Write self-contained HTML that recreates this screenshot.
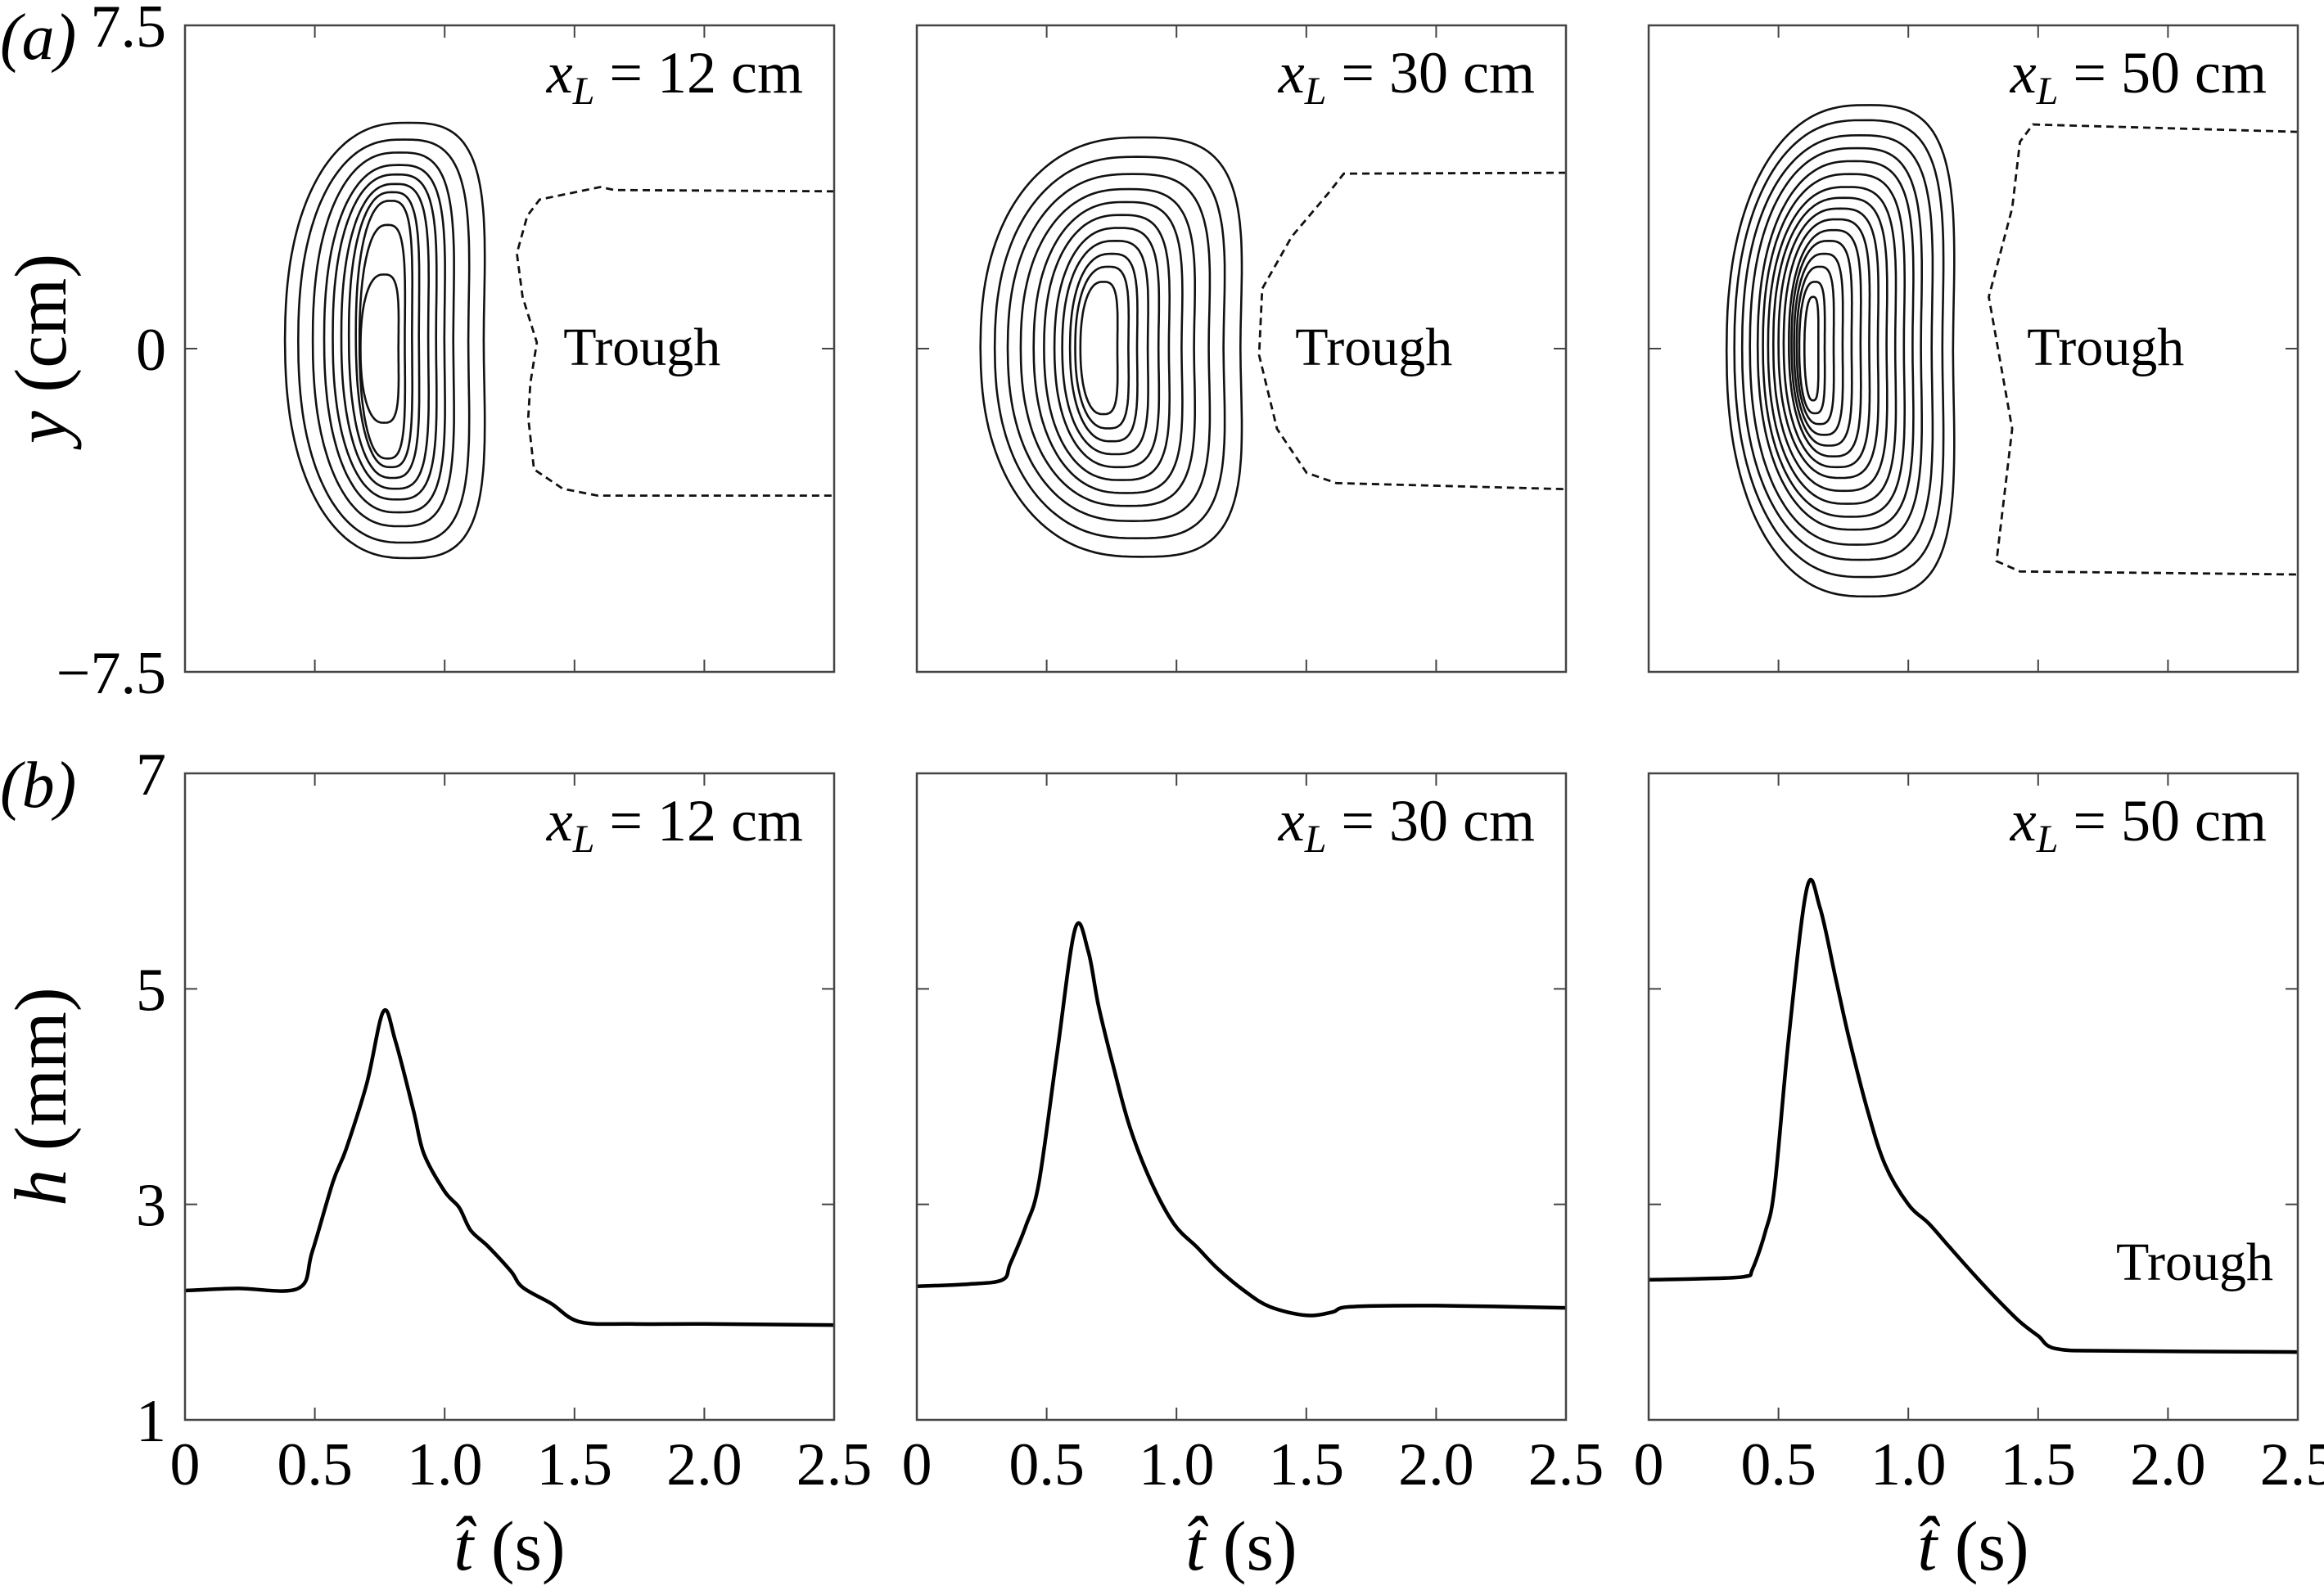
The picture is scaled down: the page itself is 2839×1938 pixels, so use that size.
<!DOCTYPE html>
<html><head><meta charset="utf-8">
<style>
html,body{margin:0;padding:0;background:#fff;}
svg{display:block;font-family:"Liberation Serif",serif;}
</style></head>
<body>
<svg id="fig" width="2839" height="1938" viewBox="0 0 2839 1938" xmlns="http://www.w3.org/2000/svg">
<rect width="2839" height="1938" fill="#fff"/>
<text x="0" y="72" font-size="80" font-style="italic">(a)</text>
<text x="0" y="986" font-size="80" font-style="italic">(b)</text>
<text transform="translate(80,426) rotate(-90)" text-anchor="middle" font-size="90"><tspan font-style="italic">y</tspan> (cm)</text>
<text transform="translate(80,1340) rotate(-90)" text-anchor="middle" font-size="90"><tspan font-style="italic">h</tspan> (mm)</text>
<g id="root"></g>
</svg>
<script>
const NS="http://www.w3.org/2000/svg";
const xLvals=["12","30","50"];
const xTicks=[0,0.5,1.0,1.5,2.0,2.5];
const xTickLabels=["0","0.5","1.0","1.5","2.0","2.5"];
const yTicksTop=[7.5,0,-7.5];
const yTickLabelsTop=["7.5","0","\u22127.5"];
const yTicksBot=[1,3,5,7];
const yTickLabelsBot=["1","3","5","7"];

// h(t) series
const t1=[0,0.2,0.436,0.49,0.57,0.62,0.70,0.764,0.81,0.88,0.92,1.0,1.056,1.10,1.167,1.255,1.30,1.41,1.52,1.72,2.0,2.5];
const h1=[2.2,2.22,2.22,2.56,3.21,3.51,4.12,4.79,4.52,3.87,3.47,3.12,2.97,2.76,2.61,2.38,2.23,2.08,1.91,1.89,1.89,1.88];
const t2=[0,0.2,0.33,0.36,0.42,0.47,0.54,0.61,0.66,0.70,0.76,0.82,0.90,0.99,1.08,1.16,1.26,1.36,1.5,1.6,1.67,2.0,2.5];
const h2=[2.24,2.26,2.3,2.45,2.8,3.2,4.4,5.56,5.35,4.84,4.25,3.72,3.22,2.82,2.6,2.4,2.2,2.05,1.97,2.0,2.05,2.06,2.04];
const t3=[0,0.2,0.37,0.40,0.45,0.485,0.54,0.61,0.66,0.72,0.77,0.84,0.91,1.0,1.08,1.16,1.26,1.35,1.43,1.5,1.57,1.8,2.5];
const h3=[2.3,2.31,2.33,2.4,2.75,3.16,4.56,5.94,5.75,5.1,4.56,3.9,3.37,3.0,2.82,2.6,2.33,2.1,1.91,1.78,1.66,1.64,1.63];
const tS=[t1,t2,t3], hS=[h1,h2,h3];

// contour bounds (t left, t right, y top, y bottom)
const cL1=[0.385,0.436,0.492,0.536,0.569,0.602,0.631,0.658,0.672,0.676];
const cR1=[1.245,1.172,1.10,1.056,1.016,0.978,0.934,0.901,0.868,0.84];
const cT1=[5.24,4.85,4.55,4.26,4.04,3.82,3.63,3.43,2.87,1.72];
const cB1=[-4.86,-4.5,-4.12,-3.8,-3.5,-3.25,-3.0,-2.75,-2.55,-1.72];
const cL2=[0.245,0.30,0.35,0.40,0.45,0.49,0.53,0.56,0.59,0.61,0.63];
const cR2=[1.37,1.29,1.22,1.15,1.09,1.03,0.98,0.93,0.88,0.84,0.79];
const cT2=[4.9,4.45,4.05,3.7,3.4,3.1,2.8,2.5,2.2,1.9,1.55];
const cB2=[-4.83,-4.4,-4.0,-3.65,-3.35,-3.05,-2.75,-2.45,-2.15,-1.85,-1.52];
const cL3=[0.30,0.33,0.36,0.39,0.42,0.44,0.46,0.48,0.50,0.52,0.54,0.55,0.56,0.57,0.58,0.60];
const cR3=[1.28,1.23,1.18,1.13,1.09,1.05,1.01,0.97,0.93,0.89,0.85,0.81,0.77,0.73,0.69,0.66];
const cT3=[5.65,5.3,4.95,4.65,4.35,4.05,3.75,3.5,3.25,3.0,2.75,2.5,2.2,1.9,1.55,1.2];
const cB3=[-5.75,-5.3,-4.9,-4.55,-4.2,-3.9,-3.6,-3.3,-3.0,-2.75,-2.5,-2.25,-2.0,-1.75,-1.5,-1.2];
const cLs=[cL1,cL2,cL3], cRs=[cR1,cR2,cR3], cTs=[cT1,cT2,cT3], cBs=[cB1,cB2,cB3];

// dashed trough boundaries
const dT1=[2.5,1.654,1.60,1.366,1.318,1.278,1.30,1.355,1.33,1.322,1.344,1.455,1.59,2.5];
const dY1=[3.65,3.68,3.75,3.46,3.08,2.21,1.2,0.14,-0.8,-1.6,-2.8,-3.25,-3.41,-3.41];
const dT2=[2.5,1.644,1.587,1.444,1.330,1.318,1.387,1.501,1.615,2.5];
const dY2=[4.08,4.06,3.62,2.6,1.39,-0.15,-1.86,-2.88,-3.12,-3.26];
const dT3=[2.5,1.48,1.43,1.40,1.31,1.40,1.34,1.43,2.5];
const dY3=[5.03,5.2,4.8,3.26,1.2,-1.86,-4.93,-5.17,-5.24];
const dTs=[dT1,dT2,dT3], dYs=[dY1,dY2,dY3];

const PX=[226,1120,2014], PW=793, TOP1=31, TOP2=945, PH=790;
const root=document.getElementById('root');
function mk(tag,attrs,parent){const e=document.createElementNS(NS,tag);for(const k in attrs)e.setAttribute(k,attrs[k]);(parent||root).appendChild(e);return e;}
function smooth(pts){
  let d='M'+pts[0][0].toFixed(1)+' '+pts[0][1].toFixed(1);
  for(let i=0;i<pts.length-1;i++){
    const p0=pts[Math.max(0,i-1)],p1=pts[i],p2=pts[i+1],p3=pts[Math.min(pts.length-1,i+2)];
    const c1=[p1[0]+(p2[0]-p0[0])/6,p1[1]+(p2[1]-p0[1])/6];
    const c2=[p2[0]-(p3[0]-p1[0])/6,p2[1]-(p3[1]-p1[1])/6];
    d+='C'+c1[0].toFixed(1)+' '+c1[1].toFixed(1)+' '+c2[0].toFixed(1)+' '+c2[1].toFixed(1)+' '+p2[0].toFixed(1)+' '+p2[1].toFixed(1);
  }
  return d;
}

for(let p=0;p<3;p++){
  const x0=PX[p];
  const sx=t=>x0+t/2.5*PW;
  const syT=y=>TOP1+(7.5-y)/15*PH;
  const syB=h=>TOP2+(7-h)/6*PH;
  const gT=mk('g',{});
  
  
  const L=cLs[p],R=cRs[p],T=cTs[p],B=cBs[p];
  for(let i=0;i<L.length;i++){
    const a=(R[i]-L[i])/2, b=(T[i]-B[i])/2, cx=(R[i]+L[i])/2, cy=(T[i]+B[i])/2;
    const bend=0.22*a, pw=0.72;
    let d='';
    for(let k=0;k<=160;k++){
      const th=k/160*2*Math.PI, c=Math.cos(th), s=Math.sin(th);
      const xn=Math.sign(c)*Math.pow(Math.abs(c),pw), yn=Math.sign(s)*Math.pow(Math.abs(s),pw);
      const tt=cx+(a-bend/2)*xn+bend*(yn*yn-0.5);
      const yy=cy+b*yn;
      d+=(k?'L':'M')+sx(tt).toFixed(1)+' '+syT(yy).toFixed(1);
    }
    const c=mk('path',{d:d+'Z',fill:'none',stroke:'#111','stroke-width':2.6},gT);
    
    
  }
  let dd='';
  for(let i=0;i<dTs[p].length;i++) dd+=(i?'L':'M')+sx(dTs[p][i]).toFixed(1)+' '+syT(dYs[p][i]).toFixed(1);
  const dl=mk('path',{d:dd,fill:'none',stroke:'#111','stroke-width':2.8,'stroke-dasharray':'9 6'},gT);
  
  
  const pts=tS[p].map((t,i)=>[sx(t),syB(hS[p][i])]);
  const hl=mk('path',{d:smooth(pts),fill:'none',stroke:'#000','stroke-width':4.5,'stroke-linejoin':'round'});
  
  
  for(const [top,yt,sy,row] of [[TOP1,yTicksTop,syT,'top'],[TOP2,yTicksBot,syB,'bottom']]){
    const fr=mk('rect',{x:x0,y:top,width:PW,height:PH,fill:'none',stroke:'#444','stroke-width':2.5});
    
    
    for(const t of xTicks){
      mk('line',{x1:sx(t),x2:sx(t),y1:top,y2:top+15,stroke:'#444','stroke-width':2});
      mk('line',{x1:sx(t),x2:sx(t),y1:top+PH,y2:top+PH-15,stroke:'#444','stroke-width':2});
    }
    for(const v of yt){
      mk('line',{x1:x0,x2:x0+15,y1:sy(v),y2:sy(v),stroke:'#444','stroke-width':2});
      mk('line',{x1:x0+PW,x2:x0+PW-15,y1:sy(v),y2:sy(v),stroke:'#444','stroke-width':2});
    }
    const lab=mk('text',{x:x0+PW-38,y:top+82,'text-anchor':'end','font-size':72});
    lab.innerHTML='<tspan font-style="italic">x</tspan><tspan font-style="italic" font-size="48" dy="14">L</tspan><tspan dy="-14"> = '+xLvals[p]+'  cm</tspan>';
    
    
  }
  const tr=mk('text',{x:sx(1.76),y:syT(0)+20,'text-anchor':'middle','font-size':66});
  tr.textContent='Trough';
  
  
  if(p===2){
    const tb=mk('text',{x:x0+PW-30,y:syB(2.3),'text-anchor':'end','font-size':66});
    tb.textContent='Trough';
    
    
  }
  for(let i=0;i<xTicks.length;i++){
    const tl=mk('text',{x:sx(xTicks[i]),y:1814,'text-anchor':'middle','font-size':74});
    tl.textContent=xTickLabels[i];
    
    
  }
  const xt=mk('text',{x:x0+PW/2,y:1918,'text-anchor':'middle','font-size':86});
  xt.innerHTML='<tspan font-style="italic">t&#770;</tspan> (s)';
  
  
  if(p===0){
    for(let i=0;i<yTicksTop.length;i++){
      const yl=mk('text',{x:203,y:syT(yTicksTop[i])+26,'text-anchor':'end','font-size':74});
      yl.textContent=yTickLabelsTop[i];
      
      
    }
    for(let i=0;i<yTicksBot.length;i++){
      const yl=mk('text',{x:203,y:syB(yTicksBot[i])+26,'text-anchor':'end','font-size':74});
      yl.textContent=yTickLabelsBot[i];
      
      
    }
  }
}
</script>
</body></html>
